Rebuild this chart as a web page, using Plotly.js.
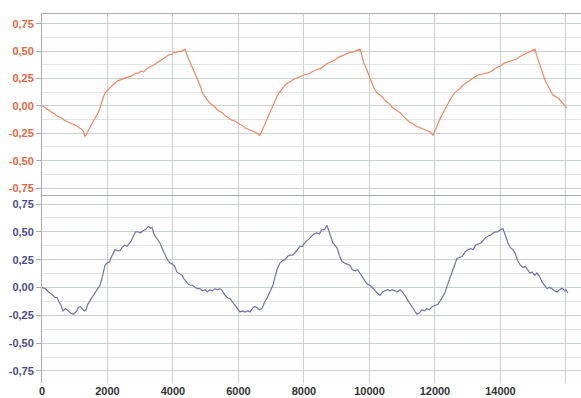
<!DOCTYPE html>
<html>
<head>
<meta charset="utf-8">
<script src="https://cdn.plot.ly/plotly-3.0.1.min.js"></script>
<style>html,body{margin:0;padding:0;background:#fff;}#chart{width:581px;height:398px;}</style>
</head>
<body>
<div id="chart"></div>
<script>
// Top panel (orange) series
const topX = [0,80,150,230,300,380,450,530,600,680,750,830,900,980,1050,1130,1200,1260,1313,1370,1420,1490,1550,1620,1700,1760,1820,1870,1924,1990,2050,2140,2229,2310,2400,2480,2550,2660,2779,2860,2950,3020,3100,3200,3298,3370,3450,3520,3600,3700,3817,3880,3950,4020,4100,4180,4250,4310,4366,4420,4480,4530,4580,4640,4700,4760,4824,4900,4977,5060,5150,5250,5344,5420,5500,5600,5700,5800,5900,5980,6046,6130,6200,6280,6350,6430,6500,6580,6656,6730,6800,6880,6950,7020,7100,7180,7267,7340,7420,7500,7573,7660,7750,7830,7900,7980,8050,8120,8183,8270,8350,8430,8500,8580,8650,8720,8794,8870,8950,9020,9100,9200,9313,9400,9480,9550,9630,9710,9760,9820,9880,9950,10020,10100,10160,10230,10321,10400,10480,10560,10640,10720,10800,10870,10931,11020,11100,11170,11237,11320,11400,11480,11560,11640,11720,11800,11870,11939,12000,12080,12150,12220,12300,12380,12450,12530,12600,12680,12763,12850,12950,13050,13130,13200,13290,13374,13450,13530,13600,13679,13750,13820,13900,13950,14030,14100,14198,14280,14350,14430,14500,14580,14650,14730,14800,14880,14950,15000,15053,15110,15170,15230,15300,15370,15450,15520,15600,15660,15725,15780,15830,15880,15930,15980,16030];
const topY = [0.00,-0.01,-0.03,-0.04,-0.06,-0.07,-0.09,-0.10,-0.11,-0.13,-0.14,-0.15,-0.16,-0.17,-0.18,-0.20,-0.21,-0.23,-0.28,-0.25,-0.22,-0.18,-0.15,-0.11,-0.07,-0.03,0.03,0.08,0.12,0.14,0.16,0.19,0.21,0.23,0.24,0.25,0.26,0.27,0.28,0.30,0.30,0.32,0.31,0.34,0.36,0.37,0.38,0.40,0.41,0.43,0.45,0.47,0.47,0.49,0.49,0.50,0.50,0.51,0.52,0.47,0.43,0.40,0.36,0.31,0.28,0.23,0.19,0.12,0.08,0.05,0.02,0.00,-0.03,-0.05,-0.06,-0.09,-0.11,-0.13,-0.14,-0.16,-0.17,-0.18,-0.20,-0.21,-0.22,-0.23,-0.24,-0.25,-0.27,-0.22,-0.17,-0.11,-0.06,-0.01,0.04,0.09,0.13,0.16,0.19,0.21,0.22,0.24,0.25,0.26,0.27,0.28,0.29,0.29,0.30,0.32,0.33,0.34,0.34,0.36,0.37,0.39,0.40,0.41,0.42,0.44,0.45,0.46,0.48,0.49,0.49,0.50,0.51,0.52,0.47,0.40,0.36,0.30,0.24,0.19,0.15,0.12,0.10,0.08,0.05,0.03,0.01,-0.02,-0.03,-0.05,-0.06,-0.09,-0.11,-0.13,-0.15,-0.16,-0.18,-0.19,-0.20,-0.21,-0.22,-0.23,-0.24,-0.27,-0.22,-0.17,-0.12,-0.08,-0.03,0.02,0.05,0.09,0.12,0.14,0.16,0.19,0.21,0.23,0.25,0.26,0.28,0.29,0.29,0.30,0.30,0.31,0.32,0.34,0.35,0.36,0.37,0.39,0.40,0.41,0.42,0.43,0.43,0.45,0.46,0.47,0.48,0.49,0.50,0.51,0.52,0.46,0.40,0.35,0.29,0.23,0.18,0.14,0.10,0.09,0.08,0.07,0.05,0.03,0.01,0.00,-0.02];
// Bottom panel (blue) series
const botX = [0,100,200,300,397,460,520,580,641,720,800,870,947,1000,1060,1110,1160,1220,1290,1343,1400,1460,1527,1600,1680,1771,1830,1880,1924,1990,2060,2130,2229,2300,2380,2450,2520,2595,2660,2730,2800,2860,2931,3000,3080,3160,3250,3320,3359,3420,3480,3540,3603,3660,3720,3780,3850,3908,3980,4050,4120,4200,4275,4330,4400,4470,4530,4600,4680,4750,4824,4900,4980,5050,5130,5200,5280,5360,5435,5510,5590,5660,5740,5820,5900,5980,6046,6120,6200,6280,6351,6420,6490,6565,6640,6718,6800,6880,6960,7053,7120,7190,7267,7340,7420,7500,7573,7650,7720,7800,7878,7950,8050,8130,8200,8300,8397,8470,8550,8630,8702,8760,8820,8880,8947,9020,9080,9150,9230,9313,9400,9480,9560,9640,9720,9802,9880,9940,10015,10090,10170,10240,10321,10400,10470,10550,10626,10700,10780,10850,10931,11000,11100,11180,11250,11330,11400,11450,11520,11600,11680,11756,11830,11920,12000,12092,12160,12230,12300,12366,12440,12520,12600,12672,12750,12840,12920,13008,13100,13170,13240,13330,13400,13466,13550,13620,13700,13771,13850,13920,14000,14076,14150,14230,14300,14382,14460,14530,14610,14687,14760,14840,14900,14970,15050,15115,15190,15270,15340,15420,15500,15570,15650,15725,15800,15860,15908,15960,16000,16061];
const botY = [0.00,-0.01,-0.04,-0.06,-0.09,-0.09,-0.13,-0.16,-0.21,-0.19,-0.21,-0.23,-0.24,-0.23,-0.21,-0.18,-0.17,-0.19,-0.21,-0.20,-0.15,-0.12,-0.09,-0.06,-0.02,0.02,0.08,0.14,0.20,0.22,0.23,0.28,0.34,0.33,0.33,0.36,0.38,0.37,0.39,0.42,0.47,0.50,0.50,0.49,0.51,0.52,0.55,0.53,0.54,0.48,0.45,0.43,0.40,0.36,0.31,0.28,0.24,0.22,0.21,0.19,0.14,0.12,0.11,0.08,0.05,0.03,0.02,0.02,0.00,-0.01,-0.01,-0.03,-0.02,-0.04,-0.02,-0.03,-0.01,-0.02,-0.01,-0.03,-0.07,-0.09,-0.10,-0.13,-0.16,-0.20,-0.22,-0.21,-0.22,-0.21,-0.22,-0.19,-0.17,-0.18,-0.20,-0.19,-0.13,-0.09,-0.04,0.02,0.10,0.17,0.22,0.24,0.25,0.28,0.29,0.29,0.31,0.34,0.37,0.37,0.41,0.43,0.45,0.48,0.49,0.48,0.52,0.52,0.56,0.50,0.45,0.40,0.38,0.35,0.29,0.24,0.22,0.21,0.20,0.16,0.15,0.16,0.12,0.08,0.05,0.03,0.02,0.00,-0.03,-0.05,-0.07,-0.04,-0.03,-0.02,-0.03,-0.02,-0.03,-0.04,-0.02,-0.04,-0.08,-0.12,-0.15,-0.19,-0.22,-0.24,-0.23,-0.20,-0.21,-0.19,-0.20,-0.17,-0.16,-0.15,-0.12,-0.08,-0.05,0.01,0.07,0.15,0.21,0.26,0.27,0.28,0.32,0.34,0.35,0.34,0.38,0.39,0.40,0.42,0.45,0.46,0.47,0.49,0.50,0.50,0.52,0.53,0.46,0.40,0.36,0.34,0.30,0.24,0.20,0.18,0.19,0.15,0.13,0.14,0.11,0.13,0.10,0.05,0.02,-0.01,0.00,-0.01,-0.03,-0.04,-0.02,-0.01,-0.01,-0.03,-0.02,-0.05];

const xTicks = [0,2000,4000,6000,8000,10000,12000,14000,16000];
const yTicks = [-0.75,-0.5,-0.25,0,0.25,0.5,0.75];
const yTickText = ["-0,75","-0,50","-0,25","0,00","0,25","0,50","0,75"];
const yMinor = [-0.875,-0.625,-0.375,-0.125,0.125,0.375,0.625,0.875];

const gridMajor = '#c9d3cb';
const gridMinor = '#dfe6e0';
const lineGray = '#a9aeaa';
const tickFont = {family:'Liberation Sans, Arial, sans-serif', size:11, weight:'bold'};

const traces = [
  {x: topX, y: topY, type:'scatter', mode:'lines', xaxis:'x2', yaxis:'y',
   line:{color:'#eb8a65', width:1.2}, hoverinfo:'skip'},
  {x: botX, y: botY, type:'scatter', mode:'lines', xaxis:'x', yaxis:'y2',
   line:{color:'#7272ad', width:1.2}, hoverinfo:'skip'}
];

function yAxis(domain, range, color){
  return {
    domain: domain, range: range, anchor: 'x',
    tickmode:'array', tickvals: yTicks, ticktext: yTickText,
    tickfont: Object.assign({}, tickFont, {color: color}),
    ticks:'outside', ticklen:5, tickcolor:lineGray, tickwidth:1,
    showgrid:true, gridcolor: gridMajor, gridwidth:1,
    minor:{tickmode:'array', tickvals:yMinor, showgrid:true, gridcolor:gridMinor, gridwidth:1, ticks:''},
    zeroline:false, showline:true, linecolor:lineGray, linewidth:1,
    fixedrange:true
  };
}

const layout = {
  width:581, height:398,
  margin:{l:42, r:0, t:14, b:15},
  paper_bgcolor:'#ffffff', plot_bgcolor:'#fdfefd',
  showlegend:false,
  xaxis:{
    domain:[0,1], anchor:'y2', range:[0,16460],
    tickmode:'array', tickvals:xTicks, ticktext:xTicks.map(String),
    tickfont: Object.assign({}, tickFont, {color:'#333333'}),
    ticks:'', showgrid:true, gridcolor: gridMajor, gridwidth:1,
    zeroline:false, showline:false
  },
  xaxis2:{
    domain:[0,1], anchor:'y', range:[0,16460], matches:'x',
    tickmode:'array', tickvals:xTicks, showticklabels:false,
    ticks:'', showgrid:true, gridcolor: gridMajor, gridwidth:1,
    zeroline:false, showline:true, mirror:true, linecolor:lineGray, linewidth:1
  },
  yaxis: yAxis([0.5095,1], [-0.814,0.841], '#e2673f'),
  yaxis2: Object.assign(yAxis([0,0.5095], [-0.858,0.831], '#4b4b8c'), {anchor:'x'})
};

Plotly.newPlot('chart', traces, layout, {staticPlot:true, displayModeBar:false});
</script>
</body>
</html>
